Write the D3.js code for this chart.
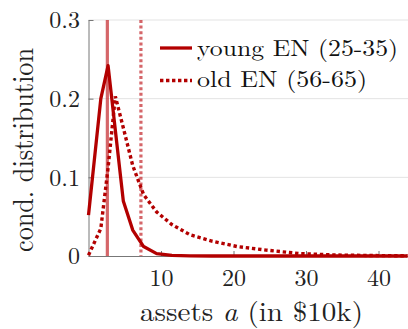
<!DOCTYPE html>
<html><head><meta charset="utf-8">
<script src="https://cdn.jsdelivr.net/npm/d3@7"></script>
<style>html,body{margin:0;padding:0;background:#fff;}svg{display:block;}</style>
</head><body>
<script>
// asset grid (in $10k)
const assets = [0, 1.7, 2.7, 3.7, 4.8, 6.1, 7.6, 9.4, 11.5, 14, 17, 20.5, 24.5, 29, 34, 39, 44];
const youngEN = [0.052, 0.200, 0.242, 0.160, 0.070, 0.033, 0.012, 0.003, 0.0008, 0.0002, 0, 0, 0, 0, 0, 0, 0];
const oldEN   = [0.001, 0.035, 0.112, 0.203, 0.163, 0.115, 0.078, 0.056, 0.040, 0.027, 0.019, 0.012, 0.0075, 0.0032, 0.0013, 0.0006, 0.0003];
const means = [2.6, 7.23]; // young, old
const seriesNames = ["young EN (25-35)", "old EN (56-65)"];
const xTicks = [10, 20, 30, 40];
const yTicks = [0, 0.1, 0.2, 0.3];
const yTickLabels = ["0", "0.1", "0.2", "0.3"];

const W = 408, H = 329;
const red = "#b30000";
const font = '"Latin Modern Roman","CMU Serif","Liberation Serif",Tinos,"Times New Roman",Times,"Noto Serif","DejaVu Serif","FreeSerif","Nimbus Roman",serif';
const svg = d3.select("body").append("svg").attr("width", W).attr("height", H);

const x = d3.scaleLinear().domain([0, 44]).range([88.5, 407.5]);
const y = d3.scaleLinear().domain([0, 0.3]).range([256, 20]);

// grid
svg.append("g").selectAll("line").data(yTicks.filter(d => d > 0)).join("line")
  .attr("x1", x(0)).attr("x2", W).attr("y1", d => y(d)).attr("y2", d => y(d))
  .attr("stroke", "#e3e3e3").attr("stroke-width", 1);

// axes
const yAxis = d3.axisLeft(y).tickValues(yTicks).tickSizeInner(-5).tickSizeOuter(0).tickFormat((d, i) => yTickLabels[i]);
const gy = svg.append("g").attr("transform", `translate(${x(0)},0)`).call(yAxis).attr("font-family", font);
gy.select(".domain").attr("stroke", "#777").attr("stroke-width", 1);
gy.selectAll(".tick line").attr("stroke", "#777");
gy.selectAll(".tick text").attr("font-size", 24).attr("fill", "#222")
  .attr("x", -8.5).attr("dy", "0.32em");

const xAxis = d3.axisBottom(x).tickValues(xTicks).tickSizeInner(-5).tickSizeOuter(0).tickFormat(d3.format("d"));
const gx = svg.append("g").attr("transform", `translate(0,${y(0)})`).call(xAxis).attr("font-family", font);
gx.select(".domain").attr("stroke", "#777").attr("stroke-width", 1);
gx.selectAll(".tick line").attr("stroke", "#777");
gx.selectAll(".tick text").attr("font-size", 24).attr("fill", "#222")
  .attr("y", 30).attr("dy", 0);

// mean lines
svg.append("line").attr("x1", x(means[0])).attr("x2", x(means[0])).attr("y1", y(0.3)).attr("y2", y(0))
  .attr("stroke", "rgba(190,20,25,0.65)").attr("stroke-width", 3.2);
svg.append("line").attr("x1", x(means[1])).attr("x2", x(means[1])).attr("y1", y(0.3)).attr("y2", y(0))
  .attr("stroke", "rgba(190,20,25,0.65)").attr("stroke-width", 3.2).attr("stroke-dasharray", "3,2.6");

// curves
const line = d3.line().x(d => x(d[0])).y(d => y(d[1]));
svg.append("path").datum(assets.map((a, i) => [a, oldEN[i]]))
  .attr("d", line).attr("fill", "none").attr("stroke", red).attr("stroke-width", 3.4)
  .attr("stroke-dasharray", "3.4,2.8");
svg.append("path").datum(assets.map((a, i) => [a, youngEN[i]]))
  .attr("d", line).attr("fill", "none").attr("stroke", red).attr("stroke-width", 3.3)
  .attr("stroke-linejoin", "round");

// legend
const leg = [{y: 48, base: 56, dash: null, w: 201}, {y: 80.5, base: 87, dash: "3.4,2.6", w: 170}];
leg.forEach((l, i) => {
  svg.append("line").attr("x1", 160).attr("x2", 192).attr("y1", l.y).attr("y2", l.y)
    .attr("stroke", red).attr("stroke-width", 3.3).attr("stroke-dasharray", l.dash);
  svg.append("text").attr("x", 197).attr("y", l.base).attr("font-family", font).attr("font-size", 23)
    .attr("fill", "#111").attr("textLength", l.w).attr("lengthAdjust", "spacingAndGlyphs").text(seriesNames[i]);
});

// axis titles
const xt = svg.append("text").attr("x", 140).attr("y", 320.5).attr("font-family", font).attr("font-size", 27)
  .attr("fill", "#222").attr("textLength", 223).attr("lengthAdjust", "spacingAndGlyphs");
xt.append("tspan").text("assets ");
xt.append("tspan").attr("font-style", "italic").text("a");
xt.append("tspan").text(" (in $10k)");

svg.append("text").attr("transform", "translate(33,150) rotate(-90)").attr("text-anchor", "middle")
  .attr("font-family", font).attr("font-size", 29).attr("fill", "#222")
  .attr("textLength", 204).attr("lengthAdjust", "spacingAndGlyphs").text("cond. distribution");
</script>
</body></html>
